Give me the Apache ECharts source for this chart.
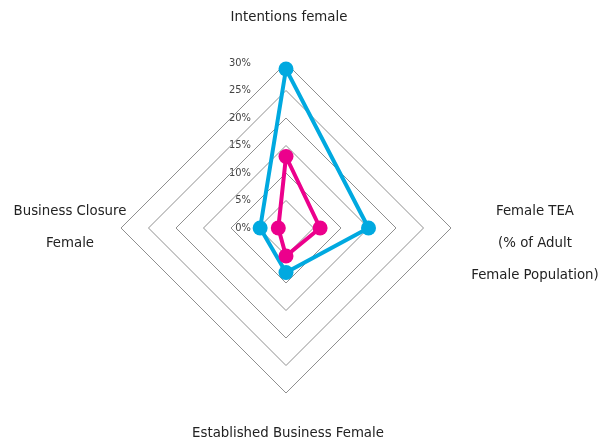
<!DOCTYPE html>
<html lang="en">
<head>
<meta charset="UTF-8">
<title>Radar</title>
<style>
  html, body { margin: 0; padding: 0; background: #fff; }
  #main { width: 607px; height: 441px; }
</style>
</head>
<body>
<div id="main"></div>
<script src="https://cdn.jsdelivr.net/npm/echarts@6/dist/echarts.min.js"></script>
<script>
// indicators go counterclockwise from the top
var indicatorNames = ['Intentions female', 'Business Closure\nFemale', 'Established Business Female', 'Female TEA\n(% of Adult\nFemale Population)'];
var tickLabels = ['0%', '5%', '10%', '15%', '20%', '25%', '30%'];
var blueValues = [28.9, 4.7, 8.1, 15.0];
var pinkValues = [13.0, 1.4, 5.1, 6.2];

var FONT = '"DejaVu Sans Condensed", sans-serif';
var cx = 286, cy = 228, R = 165;

var myChart = echarts.init(document.getElementById('main'));

// where the axis names sit
var namePos = [
  { x: cx + 3, y: 17 },
  { x: 70, y: 227 },
  { x: cx + 2, y: 433 },
  { x: 535, y: 243 }
];

var graphics = indicatorNames.map(function (n, i) {
  return {
    type: 'text',
    x: namePos[i].x,
    y: namePos[i].y,
    style: {
      text: n,
      font: '14.8px ' + FONT,
      fill: '#222',
      align: 'center',
      verticalAlign: 'middle',
      lineHeight: 32
    }
  };
});

var option = {
  animation: false,
  radar: {
    center: [cx, cy],
    radius: R,
    startAngle: 90,
    shape: 'polygon',
    splitNumber: 6,
    indicator: indicatorNames.map(function (n) { return { name: n, min: 0, max: 30 }; }),
    axisName: { show: false },
    axisLine: { show: false },
    axisTick: { show: false },
    splitArea: { show: false },
    splitLine: { lineStyle: { color: '#8f8f8f', width: 1 } },
    axisLabel: { show: false }
  },
  graphic: graphics.concat(tickLabels.map(function (t, i) {
    return {
      type: 'text',
      x: 251,
      y: cy - R * i / 6,
      style: {
        text: t,
        font: '11px ' + FONT,
        fill: '#444',
        align: 'right',
        verticalAlign: 'middle'
      }
    };
  })),
  series: [{
    type: 'radar',
    symbol: 'circle',
    symbolSize: 15,
    data: [
      {
        value: pinkValues,
        lineStyle: { color: '#ec008c', width: 4 },
        itemStyle: { color: '#ec008c' }
      },
      {
        value: blueValues,
        lineStyle: { color: '#00a9e0', width: 4 },
        itemStyle: { color: '#00a9e0' }
      }
    ]
  }]
};
myChart.setOption(option);
</script>
</body>
</html>
